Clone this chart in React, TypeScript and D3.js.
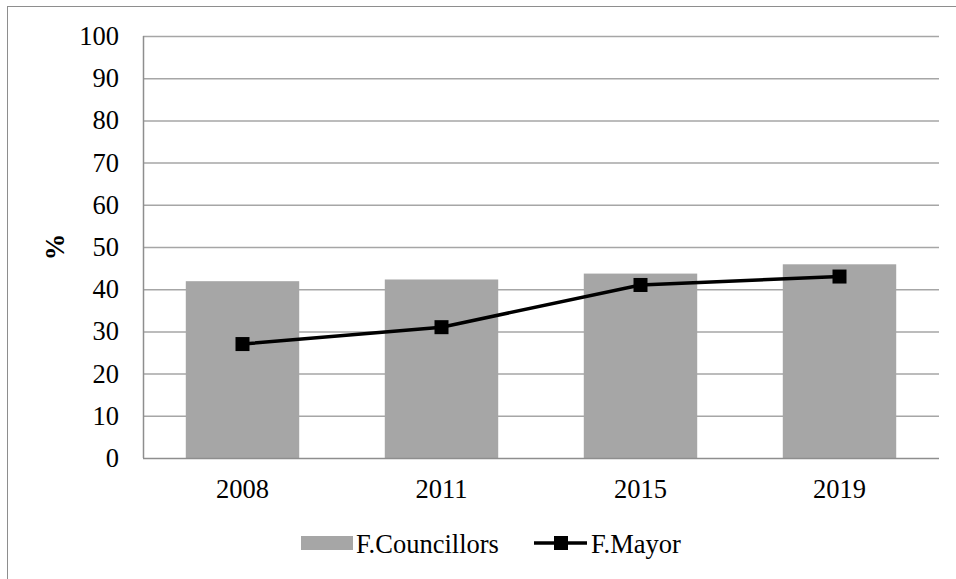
import React from "react";
import * as d3 from "d3";

const years = ["2008", "2011", "2015", "2019"];
const councillors = [41.9, 42.3, 43.7, 45.9];
const mayor = [27, 31, 41, 43];
const yTicks = [0, 10, 20, 30, 40, 50, 60, 70, 80, 90, 100];
const seriesNames = ["F.Councillors", "F.Mayor"];

const W = 956;
const H = 579;
const plot = { left: 143, right: 939, top: 36, bottom: 458 };
const FONT = "'Liberation Serif', 'Times New Roman', serif";
const FS = 26.5;

export default function App() {
  const x = d3
    .scaleBand<string>()
    .domain(years)
    .range([plot.left, plot.right])
    .paddingInner(0.43)
    .paddingOuter(0.215);
  const xc = d3.scalePoint<string>().domain(years).range([plot.left, plot.right]).padding(0.5);
  const y = d3.scaleLinear().domain([0, 100]).range([plot.bottom, plot.top]);
  const line = d3
    .line<number>()
    .x((_, i) => xc(years[i]) as number)
    .y((d) => y(d));

  const ms = 14;
  const ts = { fontFamily: FONT };

  return (
    <svg
      width={W}
      height={H}
      style={{ position: "absolute", left: 0, top: 0, background: "#fff", fontFamily: FONT }}
    >
      <rect x={7.5} y={6.5} width={W} height={H} fill="#fff" stroke="#8e8e8e" strokeWidth={1} />
      {yTicks.map((t) => (
        <g key={t}>
          {t > 0 && (
            <line x1={plot.left} x2={plot.right} y1={y(t) + 0.5} y2={y(t) + 0.5} stroke="#a6a6a6" strokeWidth={1.5} />
          )}
          <text x={119} y={y(t)} dy="0.34em" textAnchor="end" fontSize={FS} fill="#000" style={ts}>
            {t}
          </text>
        </g>
      ))}
      {years.map((yr, i) => (
        <rect
          key={yr}
          x={x(yr)}
          y={y(councillors[i])}
          width={x.bandwidth()}
          height={y(0) - y(councillors[i])}
          fill="#a6a6a6"
        />
      ))}
      <line x1={plot.left + 0.5} x2={plot.left + 0.5} y1={plot.top} y2={plot.bottom} stroke="#8e8e8e" strokeWidth={1.5} />
      <line x1={plot.left} x2={plot.right} y1={plot.bottom + 0.5} y2={plot.bottom + 0.5} stroke="#8e8e8e" strokeWidth={1.5} />
      <path d={line(mayor) || ""} fill="none" stroke="#000" strokeWidth={3.5} />
      {mayor.map((v, i) => (
        <rect
          key={i}
          x={(xc(years[i]) as number) - ms / 2}
          y={y(v) - ms / 2}
          width={ms}
          height={ms}
          fill="#000"
        />
      ))}
      {years.map((yr) => (
        <text key={yr} x={xc(yr)} y={498} textAnchor="middle" fontSize={FS} fill="#000" style={ts}>
          {yr}
        </text>
      ))}
      <text
        transform={`translate(${64},${247}) rotate(-90)`}
        textAnchor="middle"
        fontSize={FS}
        fontWeight="bold"
        fill="#000"
        style={ts}
      >
        %
      </text>
      {/* legend */}
      <rect x={301} y={536} width={52} height={14} fill="#a6a6a6" />
      <text x={356} y={553} fontSize={FS} fill="#000" style={ts}>
        {seriesNames[0]}
      </text>
      <line x1={534} x2={587} y1={543} y2={543} stroke="#000" strokeWidth={3.5} />
      <rect x={561 - ms / 2} y={543 - ms / 2} width={ms} height={ms} fill="#000" />
      <text x={591} y={553} fontSize={FS} fill="#000" style={ts}>
        {seriesNames[1]}
      </text>
    </svg>
  );
}
